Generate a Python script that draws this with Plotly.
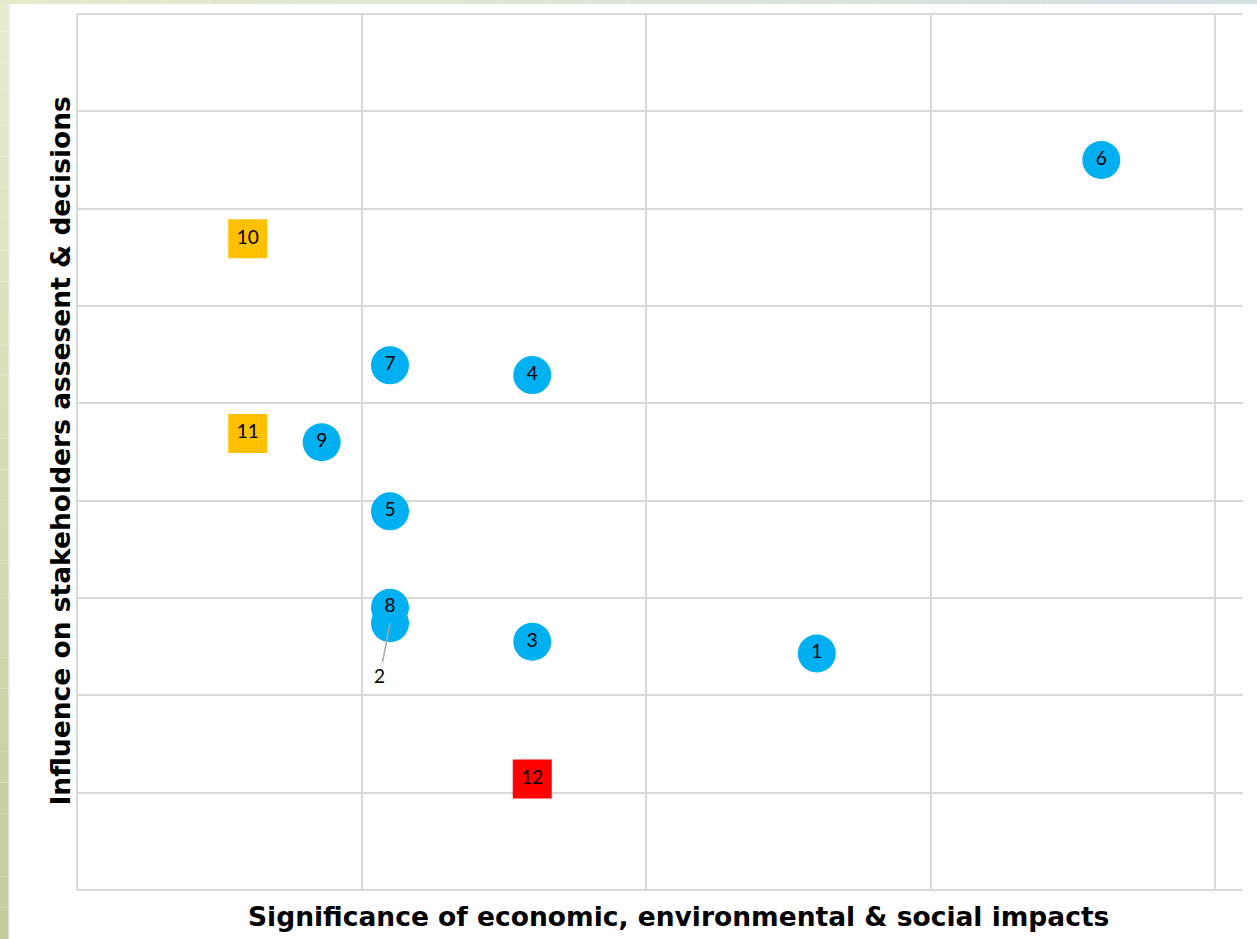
import plotly.graph_objects as go

# ---- data ----
ids = ["1", "2", "3", "4", "5", "6", "7", "8", "9", "10", "11", "12"]
significance = [2.6, 1.1, 1.6, 1.6, 1.1, 3.6, 1.1, 1.1, 0.86, 0.6, 0.6, 1.6]
influence = [2.43, 2.74, 2.55, 5.29, 3.89, 7.5, 5.39, 2.9, 4.6, 6.69, 4.69, 1.14]
group = ["blue", "blue", "blue", "blue", "blue", "blue", "blue", "blue", "blue",
         "amber", "amber", "red"]
x_title = "Significance of economic, environmental & social impacts"
y_title = "Influence on stakeholders assesent & decisions"

style = {
    "blue": dict(color="#00b0f0", symbol="circle", size=38),
    "amber": dict(color="#ffc000", symbol="square", size=39),
    "red": dict(color="#ff0000", symbol="square", size=39),
}

W, H = 1257, 939
L, R, T, B = 77, 14, 14, 49
pw, ph = W - L - R, H - T - B


def px_x(px):
    return (px - L) / pw


def px_y(py):
    return (H - B - py) / ph


fig = go.Figure()
for i in range(len(ids)):
    st = style[group[i]]
    fig.add_trace(go.Scatter(
        x=[significance[i]], y=[influence[i]],
        mode="markers+text",
        text=["" if ids[i] == "2" else ids[i]],
        textposition="middle center",
        textfont=dict(family="Lato, Noto Sans, sans-serif", size=19, color="black"),
        marker=dict(color=st["color"], symbol=st["symbol"], size=st["size"],
                    line=dict(width=0)),
        showlegend=False, hoverinfo="skip", cliponaxis=False,
    ))

# label of point 2 moved below with a leader line
k = ids.index("2")
fig.add_annotation(
    x=significance[k], y=influence[k], xref="x", yref="y",
    text=ids[k], showarrow=True, arrowhead=0, arrowwidth=1.5,
    arrowcolor="#a6a6a6", ax=-10, ay=52,
    font=dict(family="Lato, Noto Sans, sans-serif", size=19, color="black"),
)

# axis titles
title_font = dict(family="DejaVu Sans", size=26.5, color="black", weight="bold")
fig.add_annotation(
    x=px_x(678), y=0, xref="paper", yref="paper", yshift=-26,
    text=x_title, showarrow=False, xanchor="center", yanchor="middle",
    font=title_font,
)
fig.add_annotation(
    x=0, y=px_y(451.5), xref="paper", yref="paper", xshift=-17,
    text=y_title, showarrow=False, textangle=-90, xanchor="center", yanchor="middle",
    font=title_font,
)

# slide-like background strips
shapes = []
n = 30


def mix(c1, c2, t):
    a = [int(c1[j:j + 2], 16) for j in (1, 3, 5)]
    b = [int(c2[j:j + 2], 16) for j in (1, 3, 5)]
    return "#%02x%02x%02x" % tuple(round(a[j] + (b[j] - a[j]) * t) for j in range(3))


for s in range(n):
    y0p = H * s / n
    y1p = H * (s + 1) / n
    shapes.append(dict(type="rect", xref="paper", yref="paper", layer="below",
                       x0=px_x(0), x1=px_x(8.5), y0=px_y(y1p), y1=px_y(y0p),
                       fillcolor=mix("#e6ecce", "#c3cd9e", s / (n - 1)),
                       line=dict(width=0)))
    x0p = W * s / n
    x1p = W * (s + 1) / n
    shapes.append(dict(type="rect", xref="paper", yref="paper", layer="below",
                       x0=px_x(x0p), x1=px_x(x1p), y0=px_y(4), y1=px_y(0),
                       fillcolor=mix("#e4eaca", "#d3e0e2", s / (n - 1)),
                       line=dict(width=0)))
shapes.append(dict(type="line", xref="paper", yref="paper", layer="below",
                   x0=px_x(9), x1=px_x(9), y0=px_y(H), y1=px_y(4),
                   line=dict(color="#e2e2e2", width=1)))
# top gridline at the upper range edge
shapes.append(dict(type="line", xref="paper", yref="paper", layer="below",
                   x0=0, x1=1, y0=1, y1=1,
                   line=dict(color="#d9d9d9", width=2)))

fig.update_layout(
    width=W, height=H,
    margin=dict(l=L, r=R, t=T, b=B, pad=0),
    paper_bgcolor="white", plot_bgcolor="white",
    shapes=shapes,
    xaxis=dict(range=[0, 4.098], dtick=1, tick0=0, showgrid=True,
               gridcolor="#d9d9d9", gridwidth=2, showticklabels=False,
               ticks="", zeroline=True, zerolinecolor="#d9d9d9", zerolinewidth=2,
               showline=False, fixedrange=True),
    yaxis=dict(range=[0, 9], dtick=1, tick0=0, showgrid=True,
               gridcolor="#d9d9d9", gridwidth=2, showticklabels=False,
               ticks="", zeroline=True, zerolinecolor="#d9d9d9", zerolinewidth=2,
               showline=False, fixedrange=True),
)

fig.write_html("out.html")
